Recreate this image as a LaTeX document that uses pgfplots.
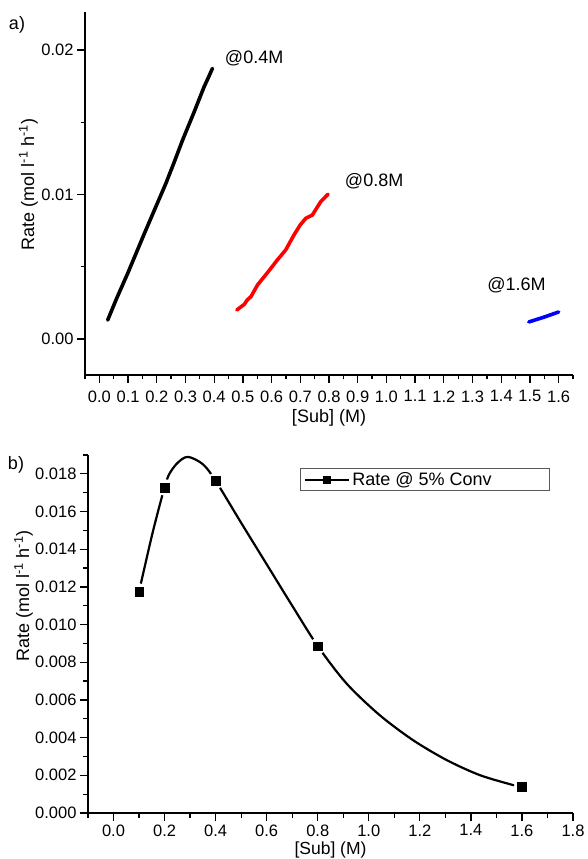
\documentclass[border=0pt]{standalone}
\usepackage{fontspec}
\setmainfont{Liberation Sans}
\usepackage{pgfplots}
\pgfplotsset{compat=1.18}

\pgfplotsset{
  panel/.style={
    scale only axis, clip=false,
    axis x line*=bottom, axis y line*=left,
    axis line style={line width=1.6pt},
    tick align=outside,
    major tick length=8pt, minor tick length=4.5pt,
    tick style={black, line width=1.3pt},
    scaled ticks=false,
    /pgf/number format/assume math mode=true,
    tick label style={font=\fontsize{16.5}{19}\selectfont},
    label style={font=\fontsize{18}{21}\selectfont},
  },
}

\begin{document}
\begin{tikzpicture}[x=1pt,y=1pt]
\path[use as bounding box] (0,0) rectangle (588,859);

% a) rate vs [Sub] at three starting concentrations
\begin{axis}[panel,
  at={(85pt,484pt)}, anchor=south west, width=488pt, height=363pt,
  xmin=-0.05, xmax=1.65, ymin=-0.00249, ymax=0.02263,
  xtick={0,0.1,0.2,0.3,0.4,0.5,0.6,0.7,0.8,0.9,1.0,1.1,1.2,1.3,1.4,1.5,1.6},
  minor xtick={-0.05,0.05,0.15,0.25,0.35,0.45,0.55,0.65,0.75,0.85,0.95,1.05,1.15,1.25,1.35,1.45,1.55,1.65},
  ytick={0,0.01,0.02}, minor ytick={0.005,0.015},
  xticklabel style={yshift=-4pt,/pgf/number format/.cd,fixed,fixed zerofill,precision=1},
  yticklabel style={/pgf/number format/.cd,fixed,fixed zerofill,precision=2},
  xlabel={[Sub] (M)},
  ylabel={Rate (mol l\textsuperscript{-1} h\textsuperscript{-1})},
  xlabel style={at={(axis description cs:0.5,-0.118)},anchor=center},
  ylabel style={at={(axis description cs:-0.116,0.525)},anchor=center},
]
\addplot[black, line width=3.6pt, line cap=round, line join=round] coordinates {
  (0.029,0.00131) (0.06,0.0028) (0.10,0.0046) (0.157,0.00731) (0.20,0.0093)
  (0.232,0.01078) (0.26,0.0122) (0.290,0.01377) (0.33,0.0157) (0.365,0.01746)
  (0.38,0.0181) (0.394,0.01873)};
\addplot[red, line width=3.6pt, line cap=round, line join=round] coordinates {
  (0.479,0.00201) (0.505,0.0024) (0.515,0.0027) (0.528,0.00293) (0.551,0.00374)
  (0.59,0.0047) (0.620,0.00547) (0.649,0.00616) (0.678,0.00720) (0.700,0.0079)
  (0.719,0.00835) (0.742,0.00858) (0.771,0.00950) (0.797,0.01003)};
\addplot[blue, line width=3.6pt, line cap=round, line join=round] coordinates {
  (1.496,0.00118) (1.55,0.00152) (1.60,0.00187)};
\node[anchor=west, inner sep=0pt, font=\fontsize{18}{21}\selectfont] at (axis cs:0.437,0.01945) {@0.4M};
\node[anchor=west, inner sep=0pt, font=\fontsize{18}{21}\selectfont] at (axis cs:0.855,0.01089) {@0.8M};
\node[anchor=west, inner sep=0pt, font=\fontsize{18}{21}\selectfont] at (axis cs:1.351,0.00374) {@1.6M};
\end{axis}

% b) rate at 5% conversion
\begin{axis}[panel,
  at={(88pt,46pt)}, anchor=south west, width=485pt, height=358pt,
  xmin=-0.1, xmax=1.8, ymin=0, ymax=0.019,
  xtick={0,0.2,0.4,0.6,0.8,1.0,1.2,1.4,1.6,1.8},
  minor xtick={-0.1,0.1,0.3,0.5,0.7,0.9,1.1,1.3,1.5,1.7},
  ytick={0,0.002,0.004,0.006,0.008,0.010,0.012,0.014,0.016,0.018},
  minor ytick={0.001,0.003,0.005,0.007,0.009,0.011,0.013,0.015,0.017,0.019},
  xticklabel style={/pgf/number format/.cd,fixed,fixed zerofill,precision=1},
  yticklabel style={/pgf/number format/.cd,fixed,fixed zerofill,precision=3},
  xlabel={[Sub] (M)},
  ylabel={Rate (mol l\textsuperscript{-1} h\textsuperscript{-1})},
  xlabel style={at={(axis description cs:0.5,-0.104)},anchor=center,
    font=\fontsize{17.5}{20}\selectfont},
  ylabel style={at={(axis description cs:-0.133,0.606)},anchor=center},
  legend style={at={(axis description cs:0.953,0.964)}, anchor=north east,
    draw=black!65, line width=1pt, font=\fontsize{18}{21}\selectfont,
    inner xsep=4pt, inner ysep=2pt},
  legend image code/.code={\draw[mark repeat=2,mark phase=2]
    plot coordinates {(0pt,0pt) (22pt,0pt) (44pt,0pt)};},
]
\addplot[black, line width=2.2pt, smooth, forget plot] coordinates {
  (0.10,0.01175) (0.15,0.0147) (0.19,0.0168) (0.215,0.0179) (0.25,0.01857)
  (0.291,0.0189) (0.35,0.01851) (0.40,0.01763) (0.50,0.0154) (0.60,0.0132)
  (0.70,0.0110) (0.80,0.00886) (0.913,0.00687) (1.043,0.00519) (1.174,0.00386)
  (1.305,0.00281) (1.435,0.00201) (1.566,0.00148) (1.60,0.00138)};
\addplot[only marks, mark=*, mark size=8pt, white, forget plot] coordinates {
  (0.1,0.01175) (0.2,0.01728) (0.4,0.01763) (0.8,0.00886) (1.6,0.00138)};
\addplot[only marks, mark=square*, mark size=4.3pt, black, forget plot] coordinates {
  (0.1,0.01175) (0.2,0.01728) (0.4,0.01763) (0.8,0.00886) (1.6,0.00138)};
\addlegendimage{black, line width=2pt, mark=square*, mark size=3pt}
\addlegendentry{Rate @ 5\% Conv\hspace*{52pt}}
\end{axis}

\node[font=\fontsize{18}{21}\selectfont] at (17,834) {a)};
\node[font=\fontsize{18}{21}\selectfont] at (16,394) {b)};
\end{tikzpicture}
\end{document}
